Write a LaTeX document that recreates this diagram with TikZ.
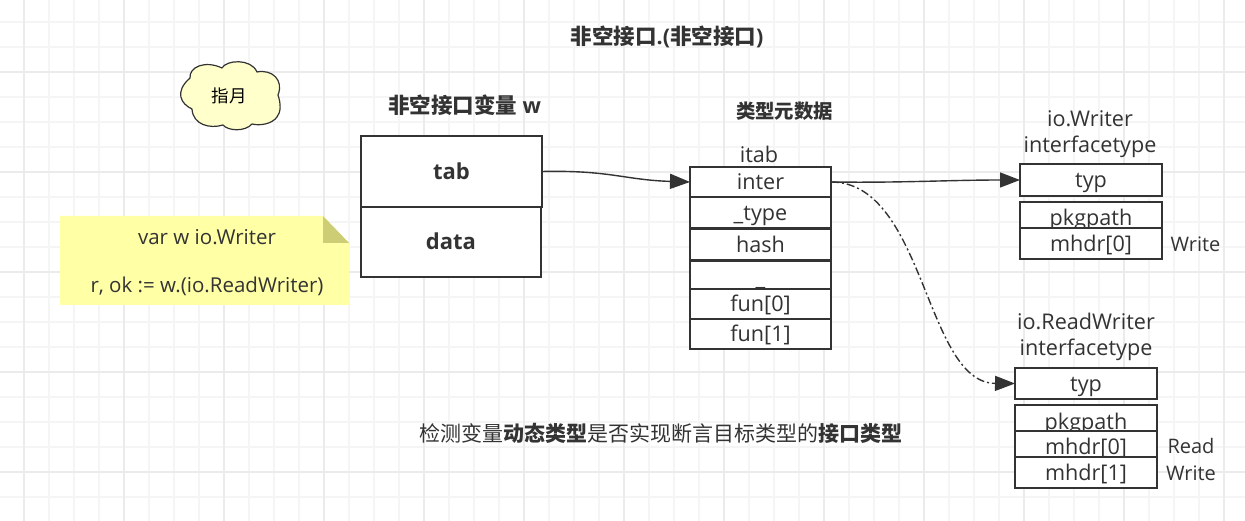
\documentclass[tikz,border=0pt]{standalone}
\usepackage{fontspec}
\setmainfont{Open Sans}
\newfontfamily\cjk{Noto Sans CJK SC}
\usetikzlibrary{arrows.meta}
\definecolor{ink}{HTML}{333333}
\definecolor{gridminor}{HTML}{F5F5F5}
\definecolor{gridmajor}{HTML}{EBEBEB}
\definecolor{notefill}{HTML}{FFFFA6}
\definecolor{notefold}{HTML}{CDCD76}
\definecolor{cloudfill}{HTML}{FFFFCC}
\tikzset{
  x=1pt,y=-1pt,
  cell/.style={draw=ink,line width=1.4pt,fill=white,rectangle,anchor=north west,inner sep=0pt,outer sep=0pt,text=ink,text height=18pt,text depth=2.6pt,font=\fontsize{21.6}{22}\selectfont},
  lbl/.style={text=ink,inner sep=0pt,align=center,font=\fontsize{21.6}{26}\selectfont},
  notetext/.style={text=ink,inner sep=0pt,anchor=base,font=\fontsize{20.5}{20}\selectfont},
  side/.style={text=ink,inner sep=0pt,anchor=base,font=\fontsize{20}{20}\selectfont},
  head/.style={text=ink,inner sep=0pt,font=\fontsize{21.5}{24}\selectfont\bfseries},
  link/.style={draw=ink,line width=1.4pt,-{Triangle[length=20pt,width=15pt,fill=ink]}}
}
\newcommand{\cellbox}[6]{\node[cell,minimum width=#3pt,minimum height=#4pt] (#5) at (#1,#2) {#6};}
\begin{document}
\begin{tikzpicture}
\useasboundingbox (0,0) rectangle (1245,521);
\fill[white] (0,0) rectangle (1245,521);
\foreach \i in {-1,...,49} {\draw[gridminor,line width=1.2pt] ({24+25*\i},0) -- ({24+25*\i},521);}
\foreach \i in {0,...,20} {\draw[gridminor,line width=1.2pt] (0,{22+25*\i}) -- (1245,{22+25*\i});}
\foreach \i in {0,...,12} {\draw[gridmajor,line width=1.2pt] ({24+100*\i},0) -- ({24+100*\i},521);}
\foreach \i in {0,...,4} {\draw[gridmajor,line width=1.2pt] (0,{72+100*\i}) -- (1245,{72+100*\i});}

\node[head] (title) at (667,37) {{\cjk 非空接口}.({\cjk 非空接口})};

% cloud
\draw[draw=ink,line width=1.2pt,fill=cloudfill,line join=round]
 (190,78) .. controls (189,67) and (205,60) .. (222,68)
 .. controls (226,60) and (251,58) .. (257,72)
 .. controls (272,69) and (284,80) .. (278,95)
 .. controls (281,104) and (281,112) .. (277,117)
 .. controls (272,124) and (260,126) .. (252,124)
 .. controls (245,132) and (228,131) .. (223,125)
 .. controls (210,129) and (193,125) .. (192,109)
 .. controls (181,104) and (174,92) .. (190,78) -- cycle;
\node[inner sep=0pt,font=\cjk\fontsize{17.5}{17.5}\selectfont,text=black] (moon) at (229,96) {指月};

% note
\fill[notefill] (60,216) -- (323,216) -- (349,243) -- (349,305) -- (60,305) -- cycle;
\fill[notefold] (323,216) -- (349,243) -- (323,243) -- cycle;
\node[notetext] (note1) at (207,245) {var w io.Writer};
\node[notetext] (note2) at (207,292.7) {r, ok := w.(io.ReadWriter)};

% variable
\node[head,anchor=base] (varname) at (464.5,114) {{\cjk 非空接口变量} w};
\cellbox{361}{136}{181}{71}{tab}{\fontsize{22}{22}\selectfont\bfseries tab}
\cellbox{361}{207}{180}{70}{data}{\fontsize{22}{22}\selectfont\bfseries data}

% itab
\node[head,font=\fontsize{19.4}{24}\selectfont\bfseries] (meta) at (784.5,111) {\cjk 类型元数据};
\node[lbl,anchor=base] (itabname) at (759,162.5) {itab};
\cellbox{690}{167}{141}{30}{inter}{inter}
\cellbox{690}{197}{141}{31}{type}{\_type}
\cellbox{690}{229.3}{141}{30.7}{hash}{hash}
\cellbox{690}{261.5}{141}{27.5}{blank}{}
\node[lbl] (under) at (blank.center) [yshift=-12pt] {\_};
\cellbox{690}{289}{141}{30}{fun0}{fun[0]}
\cellbox{690}{319}{141}{30}{fun1}{fun[1]}

% io.Writer
\node[lbl] (wname) at (1090,134) {io.Writer\\interfacetype};
\cellbox{1020}{164}{142}{32}{wtyp}{typ}
\cellbox{1020}{202}{142}{26}{wpkg}{\raisebox{-2.5pt}{pkgpath}}
\cellbox{1020}{228}{142}{31}{wm0}{mhdr[0]}
\node[side] (wwrite) at (1195.5,251.2) {Write};

% io.ReadWriter
\node[lbl] (rwname) at (1086,337) {io.ReadWriter\\interfacetype};
\cellbox{1015}{368}{142}{31}{rtyp}{typ}
\cellbox{1015}{405}{142}{26}{rpkg}{\raisebox{-3.5pt}{pkgpath}}
\cellbox{1015}{431}{142}{26}{rm0}{\raisebox{-2.5pt}{mhdr[0]}}
\cellbox{1015}{457}{142}{31}{rm1}{mhdr[1]}
\node[side] (rread) at (1191,453.8) {Read};
\node[side] (rwrite) at (1191,480.2) {Write};

\node[text=ink,inner sep=0pt,font=\cjk\fontsize{21}{24}\selectfont] (note) at (661,433) {检测变量{\bfseries 动态类型}是否实现断言目标类型的{\bfseries 接口类型}};

% connectors
\draw[link] (tab.east) .. controls (610,170) and (625,180) .. (inter.west);
\draw[link] (inter.east) .. controls (900,183) and (950,180) .. (wtyp.west);
\draw[link,dash pattern=on 8pt off 3pt on 2pt off 3pt] (inter.east) .. controls (925,182) and (925,383) .. (rtyp.west);
\end{tikzpicture}
\end{document}
